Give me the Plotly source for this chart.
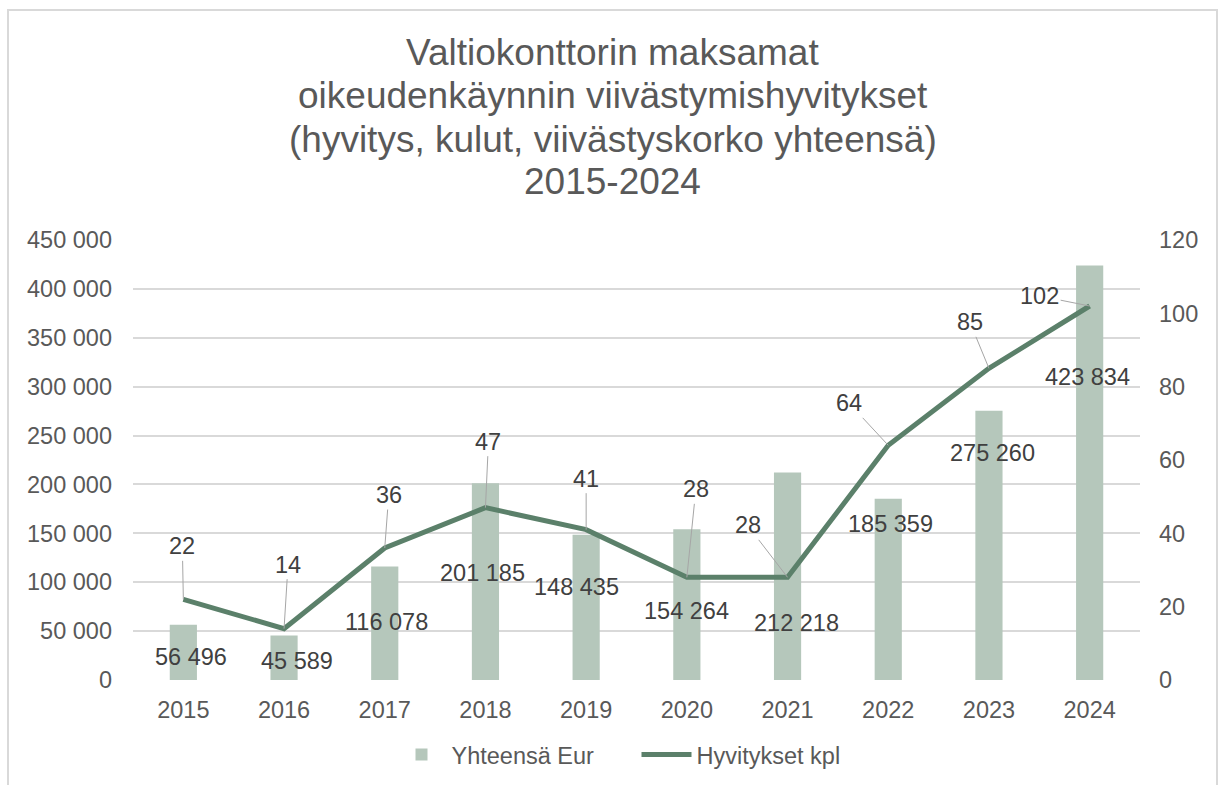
import plotly.graph_objects as go

years = ["2015", "2016", "2017", "2018", "2019", "2020", "2021", "2022", "2023", "2024"]
eur_total = [56496, 45589, 116078, 201185, 148435, 154264, 212218, 185359, 275260, 423834]
count_kpl = [22, 14, 36, 47, 41, 28, 28, 64, 85, 102]
left_ticks = [0, 50000, 100000, 150000, 200000, 250000, 300000, 350000, 400000, 450000]
right_ticks = [0, 20, 40, 60, 80, 100, 120]
title_lines = ["Valtiokonttorin maksamat",
               "oikeudenkäynnin viivästymishyvitykset",
               "(hyvitys, kulut, viivästyskorko yhteensä)",
               "2015-2024"]

# label placement (pixel offsets, layout only)
bar_label_shift = [(8, -32), (13, -26), (2, -55), (-3, -90), (-10, -52),
                   (0, -82), (9, -150), (2, -25), (4, -42), (-2, -111)]
line_label_offset = [(-1, -53), (4, -64), (4, -53), (3, -66), (0, -51),
                     (9, -88), (-40, -52), (-39, -42), (-19, -46), (-50, -10)]
title_line_px = [53, 96, 139, 181]

FONT = "Liberation Sans, Arial, sans-serif"
AXIS_COLOR = "#595959"
LABEL_COLOR = "#404040"
BAR_COLOR = "#b5c7bb"
LINE_COLOR = "#5b806a"

PLOT_L, PLOT_R, PLOT_T, PLOT_B = 133, 1140, 240, 680
W, H = 1222, 785

fig = go.Figure()
fig.add_trace(go.Bar(x=years, y=eur_total, name="Yhteensä Eur",
                     marker=dict(color=BAR_COLOR, line=dict(width=0)),
                     width=0.27, yaxis="y", hoverinfo="skip"))
fig.add_trace(go.Scatter(x=years, y=count_kpl, name="Hyvitykset kpl", mode="lines",
                         line=dict(color=LINE_COLOR, width=5), yaxis="y2", hoverinfo="skip"))

annotations = []
for i, (v, (dx, dy)) in enumerate(zip(eur_total, bar_label_shift)):
    annotations.append(dict(x=i, y=v, xref="x", yref="y", text=f"{v:,}".replace(",", " "),
                            showarrow=False, xshift=dx, yshift=dy,
                            font=dict(family=FONT, size=23.5, color=LABEL_COLOR)))
for i, (v, (ax, ay)) in enumerate(zip(count_kpl, line_label_offset)):
    annotations.append(dict(x=i, y=v, xref="x", yref="y2", text=str(v),
                            showarrow=True, arrowhead=0, arrowwidth=1, arrowcolor="#a6a6a6",
                            ax=ax, ay=ay, standoff=0,
                            font=dict(family=FONT, size=23.5, color=LABEL_COLOR)))
ph = PLOT_B - PLOT_T
pw = PLOT_R - PLOT_L
for line, py in zip(title_lines, title_line_px):
    annotations.append(dict(x=(612.5 - PLOT_L) / pw, y=(PLOT_B - py) / ph, xref="paper", yref="paper",
                            text=line, showarrow=False, xanchor="center", yanchor="middle",
                            font=dict(family=FONT, size=37, color=AXIS_COLOR)))

fig.update_layout(
    width=W, height=H,
    margin=dict(l=PLOT_L, r=W - PLOT_R, t=PLOT_T, b=H - PLOT_B, autoexpand=False),
    paper_bgcolor="white", plot_bgcolor="white",
    separators=", ",
    xaxis=dict(type="category", range=[-0.5, 9.5], autorange=False, automargin=False,
               showgrid=False, showline=False, zeroline=False, ticks="",
               tickfont=dict(family=FONT, size=23.5, color=AXIS_COLOR), ticklabelstandoff=13),
    yaxis=dict(range=[0, 450000], autorange=False, automargin=False, tickvals=left_ticks, tickformat=",d",
               showgrid=True, gridcolor="#d9d9d9", gridwidth=1.5, zeroline=False, showline=False,
               ticks="", tickfont=dict(family=FONT, size=23.5, color=AXIS_COLOR), ticklabelstandoff=20),
    yaxis2=dict(range=[0, 120], autorange=False, automargin=False, tickvals=right_ticks,
                overlaying="y", side="right",
                showgrid=False, zeroline=False, showline=False, ticks="",
                tickfont=dict(family=FONT, size=23.5, color=AXIS_COLOR), ticklabelstandoff=18),
    legend=dict(orientation="h", x=0.5, xanchor="center", y=-0.17, yanchor="middle",
                font=dict(family=FONT, size=23.5, color=AXIS_COLOR), itemwidth=50,
                entrywidth=180, entrywidthmode="pixels",
                bgcolor="rgba(0,0,0,0)"),
    annotations=annotations,
    shapes=[dict(type="rect", xref="paper", yref="paper",
                 x0=(8 - PLOT_L) / pw, x1=(1217 - PLOT_L) / pw,
                 y0=(PLOT_B - 800) / ph, y1=(PLOT_B - 10) / ph,
                 line=dict(color="#d9d9d9", width=2), fillcolor="rgba(0,0,0,0)", layer="below")],
)

fig.write_html("out.html")
